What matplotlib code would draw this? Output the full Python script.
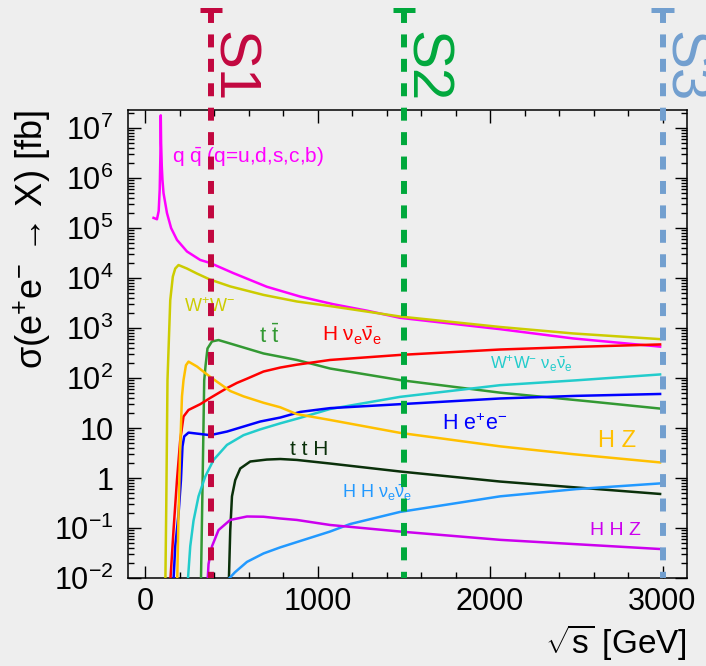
import matplotlib

matplotlib.use("Agg")
import matplotlib.pyplot as plt
import matplotlib.transforms as mtransforms
from matplotlib.ticker import (FixedFormatter, FixedLocator, LogLocator,
                               MultipleLocator, NullFormatter)

plt.rcParams["font.family"] = ["Liberation Sans", "DejaVu Sans"]
plt.rcParams["mathtext.fontset"] = "custom"
plt.rcParams["mathtext.rm"] = "Liberation Sans"
plt.rcParams["mathtext.it"] = "Liberation Sans"
plt.rcParams["mathtext.sf"] = "Liberation Sans"
plt.rcParams["mathtext.bf"] = "Liberation Sans:bold"

BG = "#eeeeee"

# sqrt(s) [GeV] and cross section [fb]
qq_e = [48, 68, 78, 84, 88, 90, 92, 96, 100, 106, 126, 150, 184, 242, 319, 377,
        510, 705, 899, 1090, 1285, 1478, 2058, 2481, 2986]
qq_xs = [1.6e5, 1.5e5, 2.2e5, 6e5, 3e6, 1.8e7, 5e6, 1.7e6, 9e5, 5e5, 2e5, 1e5,
         5.8e4, 3.4e4, 2.3e4, 2.0e4, 1.26e4, 6700, 4260, 3000, 2230, 1600, 950,
         620, 425]

ww_e = [116, 122, 129, 135, 145, 160, 174, 193, 242, 300, 377, 493, 686, 879,
        1072, 1478, 2058, 2481, 2986]
ww_xs = [0.005, 0.3, 90, 363, 3600, 1.07e4, 1.55e4, 1.82e4, 1.55e4, 1.23e4,
         9300, 6800, 4600, 3400, 2750, 1700, 1050, 780, 600]

tt_e = [323, 333, 342, 350, 361, 387, 425, 493, 686, 879, 1072, 1478, 2058,
        2580, 2986]
tt_xs = [0.008, 1.0, 90, 180, 390, 540, 575, 490, 310, 230, 155, 91, 51, 34,
         24.5]

hnn_e = [141, 164, 184, 203, 222, 251, 319, 377, 474, 532, 590, 686, 783, 879,
         1072, 1478, 2058, 2500, 2986]
hnn_xs = [0.005, 0.091, 0.91, 5.8, 17, 23, 30, 40, 63, 80, 97, 135, 162, 185,
          230, 290, 372, 420, 470]

wwnn_e = [242, 261, 280, 309, 348, 396, 474, 570, 667, 783, 899, 1072, 1478,
          2058, 2500, 2986]
wwnn_xs = [0.005, 0.043, 0.14, 0.43, 1.07, 2.3, 4.6, 7.2, 9.4, 12.4, 16, 24,
           42, 72, 90, 118]

hee_e = [160, 174, 193, 207, 216, 226, 251, 319, 377, 474, 570, 667, 783, 899,
         1072, 1478, 2058, 2500, 2986]
hee_xs = [0.005, 0.043, 0.19, 0.9, 4.3, 6.8, 8.1, 7.6, 7.2, 8.5, 10.7, 13.5,
          16.2, 21, 25, 30, 39, 44, 48]

hz_e = [184, 193, 203, 213, 222, 236, 251, 300, 377, 493, 570, 686, 783, 879,
        1072, 1478, 2058, 2481, 2986]
hz_xs = [0.005, 0.19, 4.3, 43, 91, 180, 213, 170, 105, 55, 43, 32, 26, 19,
         14.5, 8, 4.3, 3, 2.05]

tth_e = [483, 493, 503, 522, 551, 609, 705, 783, 879, 1072, 1478, 2058, 2986]
tth_xs = [0.005, 0.09, 0.43, 0.91, 1.55, 2.14, 2.34, 2.4, 2.3, 1.95, 1.35,
          0.85, 0.48]

hhnn_e = [483, 520, 590, 686, 783, 899, 1072, 1188, 1478, 2058, 2500, 2986]
hhnn_xs = [0.0095, 0.013, 0.021, 0.031, 0.041, 0.055, 0.085, 0.12, 0.21,
           0.43, 0.6, 0.78]

hhz_e = [358, 367, 387, 425, 493, 590, 686, 783, 879, 1072, 1478, 2058, 2986]
hhz_xs = [0.005, 0.019, 0.043, 0.091, 0.145, 0.17, 0.168, 0.155, 0.145, 0.115,
          0.085, 0.058, 0.038]

# label text, anchor (left edge, baseline) in data units, size
labels = [
    (r"q $\bar{q}$ (q=u,d,s,c,b)", 155, 2.1e6, 15, "#ff00ff"),
    (r"W$^{+}$W$^{-}$", 222, 2100, 13, "#cccc00"),
    (r"t $\bar{t}$", 657, 510, 16, "#339933"),
    (r"H $\nu_{e}\bar{\nu}_{e}$", 1024, 535, 15, "#ff0000"),
    (r"W$^{+}$W$^{-}$ $\nu_{e}\bar{\nu}_{e}$", 2000, 156, 12, "#22cccc"),
    (r"H e$^{+}$e$^{-}$", 1720, 9.1, 15.5, "#0000ff"),
    ("H Z", 2628, 4.1, 17, "#ffc000"),
    ("t t H", 841, 2.9, 15, "#0a300a"),
    (r"H H $\nu_{e}\bar{\nu}_{e}$", 1140, 0.39, 13, "#2299ff"),
    ("H H Z", 2580, 0.072, 14, "#cc00ee"),
]

stage_e = [380, 1500, 3000]
stage_names = ["S1", "S2", "S3"]
stage_colors = ["#c2073f", "#00a83c", "#729fcf"]

y_ticks = [1e-2, 1e-1, 1, 10, 1e2, 1e3, 1e4, 1e5, 1e6, 1e7]
y_tick_labels = [r"10$^{-2}$", r"10$^{-1}$", "1", "10", r"10$^{2}$",
                 r"10$^{3}$", r"10$^{4}$", r"10$^{5}$", r"10$^{6}$",
                 r"10$^{7}$"]

curves = [
    (qq_e, qq_xs, "#ff00ff"),
    (ww_e, ww_xs, "#cccc00"),
    (tt_e, tt_xs, "#339933"),
    (hnn_e, hnn_xs, "#ff0000"),
    (wwnn_e, wwnn_xs, "#22cccc"),
    (hee_e, hee_xs, "#0000ff"),
    (hz_e, hz_xs, "#ffc000"),
    (tth_e, tth_xs, "#0a300a"),
    (hhnn_e, hhnn_xs, "#2299ff"),
    (hhz_e, hhz_xs, "#cc00ee"),
]

fig = plt.figure(figsize=(7.06, 6.66), dpi=100, facecolor=BG)
ax = fig.add_axes([128 / 706, 88 / 666, 559 / 706, 468 / 666])
ax.set_facecolor(BG)
ax.set_yscale("log")
ax.set_xlim(-100, 3142)
ax.set_ylim(1e-2, 2.3e7)

for e, xs, c in curves:
    ax.plot(e, xs, color=c, lw=1.8, zorder=3)

for text, x, y, size, c in labels:
    ax.text(x, y, text, color=c, fontsize=size, va="baseline", ha="left",
            zorder=4)

# stage markers reach above the frame
trans = mtransforms.blended_transform_factory(ax.transData, ax.transAxes)
ytop = (578 - 9.5) / 468
for e, name, c in zip(stage_e, stage_names, stage_colors):
    ax.plot([e, e], [ytop, 0], transform=trans, color=c, lw=4.3,
            dashes=(2.17, 1.92), dash_capstyle="butt", clip_on=False,
            zorder=5)
    ax.plot([e - 64, e + 64], [ytop, ytop], transform=trans, color=c,
            lw=3.6, solid_capstyle="butt", clip_on=False, zorder=5)
    ax.text(e + 35, (578 - 31) / 468, name, transform=trans, color=c,
            fontsize=42, rotation=-90, rotation_mode="anchor", ha="left",
            va="baseline", clip_on=False)

ax.xaxis.set_major_locator(MultipleLocator(1000))
ax.xaxis.set_minor_locator(MultipleLocator(200))
ax.yaxis.set_major_locator(FixedLocator(y_ticks))
ax.yaxis.set_major_formatter(FixedFormatter(y_tick_labels))
ax.yaxis.set_minor_locator(LogLocator(base=10, subs=range(2, 10), numticks=30))
ax.yaxis.set_minor_formatter(NullFormatter())

ax.tick_params(which="both", direction="in", top=True, right=True,
               width=1.0, labelsize=22)
ax.tick_params(which="major", length=9)
ax.tick_params(which="minor", length=4)
ax.tick_params(axis="y", pad=10.5)
ax.tick_params(axis="x", pad=6.5)
for s in ax.spines.values():
    s.set_linewidth(1.1)

fig.text(32 / 706, 1 - 110 / 666, r"$\sigma$(e$^{+}$e$^{-}$ → X) [fb]",
         rotation=90, ha="center", va="top", fontsize=26)
fig.text(687 / 706, 4 / 666, r"$\sqrt{s}$ [GeV]", ha="right", va="bottom",
         fontsize=24)

fig.savefig("out.png", dpi=100, facecolor=BG)
